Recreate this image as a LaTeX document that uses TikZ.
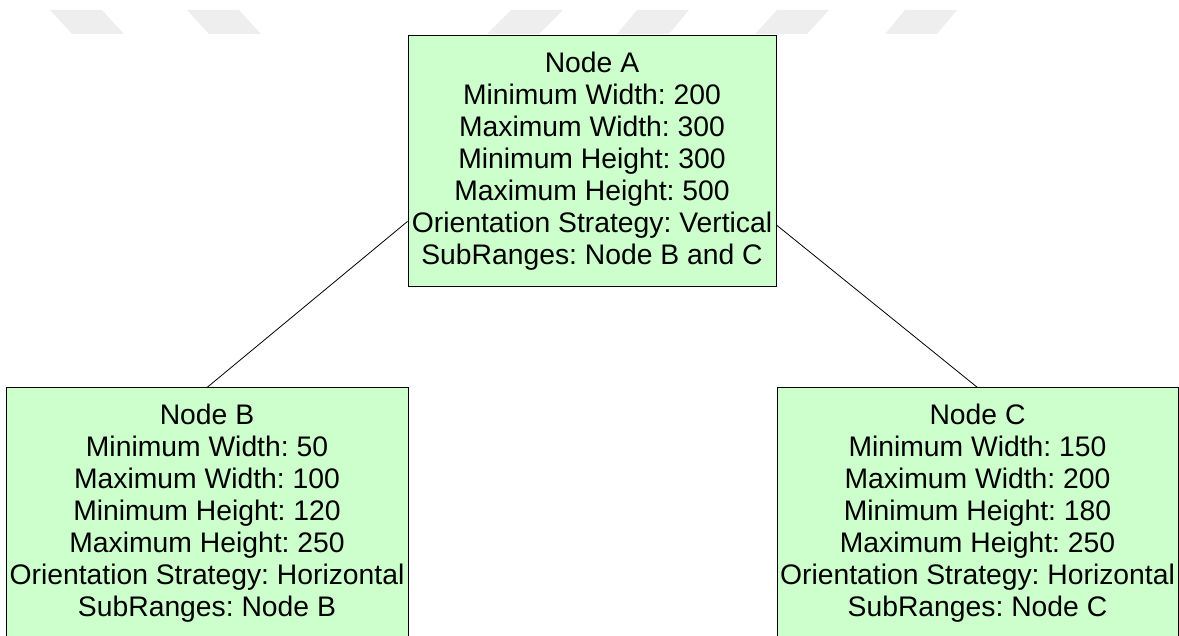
\documentclass[tikz,border=0pt]{standalone}
\usepackage{fontspec}
\setmainfont{Liberation Sans}
\usetikzlibrary{positioning}

\definecolor{boxgreen}{HTML}{CCFFCC}
\definecolor{stripegray}{HTML}{EEEEEE}
\tikzset{
	rangebox/.style={draw=black, line width=1pt, fill=boxgreen, align=center,
		inner sep=0pt, minimum height=251pt,
		font=\fontsize{28.3}{32}\selectfont\frenchspacing},
	link/.style={draw=black, line width=0.8pt},
}

\begin{document}
\begin{tikzpicture}[x=1pt, y=1pt]
	\useasboundingbox (0,0) rectangle (1179,-636);

	% faint stripes along the top edge
	\foreach \x/\s in {50/22, 187/22, 511/-24, 637/-20, 777/-22, 905/-20}
		\fill[stripegray] (\x,-10) -- ++(52,0) -- ++(\s,-24) -- ++(-52,0) -- cycle;

	\node [rangebox, minimum width=368pt] (A) at (592,-161.5) {Node A\\
		Minimum Width: 200\\
		Maximum Width: 300\\
		Minimum Height: 300\\
		Maximum Height: 500\\
		Orientation Strategy: Vertical\\
		SubRanges: Node B and C};
	\node [rangebox, minimum width=402pt, below left=100pt and -1pt of A.south west] (B) {Node B\\
		Minimum Width: 50\\
		Maximum Width: 100\\
		Minimum Height: 120\\
		Maximum Height: 250\\
		Orientation Strategy: Horizontal\\
		SubRanges: Node B};
	\node [rangebox, minimum width=401pt, below right=100pt and 0pt of A.south east] (C) {Node C\\
		Minimum Width: 150\\
		Maximum Width: 200\\
		Minimum Height: 180\\
		Maximum Height: 250\\
		Orientation Strategy: Horizontal\\
		SubRanges: Node C};

	\draw [link] (A.198.5) -- (B.north);
	\draw [link] (A.341) -- (C.north);
\end{tikzpicture}
\end{document}
